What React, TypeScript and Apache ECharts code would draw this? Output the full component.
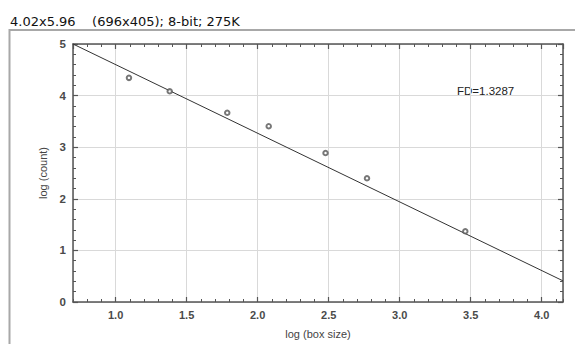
import React, { useEffect, useRef } from 'react';
import * as echarts from 'echarts';

const titleText = '4.02x5.96\u00a0\u00a0\u00a0 (696x405); 8-bit; 275K';
const xName = 'log (box size)';
const yName = 'log (count)';
const fdLabel = 'FD=1.3287';
const xMin = 0.7;
const xMax = 4.15;
const xMinorStep = 0.1;
const yMin = 0;
const yMax = 5;
const yStep = 1;
const pointX = [1.094, 1.381, 1.786, 2.078, 2.478, 2.77, 3.462];
const pointY = [4.344, 4.084, 3.667, 3.407, 2.887, 2.398, 1.37];
const fitX = [0.7, 4.15];
const fitY = [5.0, 0.41];

const AXIS = '#555';
const GRIDC = '#d9d9d9';
const FONT = 'Liberation Sans, Arial, sans-serif';

export default function App() {
  const ref = useRef<HTMLDivElement>(null);
  useEffect(() => {
    if (!ref.current) return;
    const chart = echarts.init(ref.current, undefined, { renderer: 'svg' });
    const majorX = (pos: 'top' | 'bottom', labels: boolean) => ({
      type: 'value',
      position: pos,
      min: xMin,
      max: xMax,
      axisLine: { show: true, onZero: false, lineStyle: { color: AXIS, width: 1.5 } },
      axisTick: { show: true, inside: true, length: 5, lineStyle: { color: AXIS, width: 1.2 } },
      axisLabel: {
        show: labels,
        showMinLabel: false,
        showMaxLabel: false,
        margin: 7,
        color: '#4a4a4a',
        fontSize: 11,
        fontWeight: 'bold',
        fontFamily: FONT,
        formatter: (v: number) => v.toFixed(1),
      },
      splitLine: { show: labels, lineStyle: { color: GRIDC, width: 1 } },
      ...(labels
        ? {
            name: xName,
            nameLocation: 'middle',
            nameGap: 26,
            nameTextStyle: { color: '#444', fontSize: 11, fontFamily: FONT },
          }
        : {}),
    });
    const minorX = (pos: 'top' | 'bottom') => ({
      type: 'value',
      position: pos,
      min: xMin,
      max: xMax,
      interval: xMinorStep,
      axisLine: { show: false, onZero: false },
      axisTick: { show: true, inside: true, length: 3, lineStyle: { color: AXIS, width: 1 } },
      axisLabel: { show: false },
      splitLine: { show: false },
    });
    const yAx = (pos: 'left' | 'right', labels: boolean) => ({
      type: 'value',
      position: pos,
      min: yMin,
      max: yMax,
      interval: yStep,
      axisLine: { show: true, onZero: false, lineStyle: { color: AXIS, width: 1.5 } },
      axisTick: { show: true, inside: true, length: 5, lineStyle: { color: AXIS, width: 1.2 } },
      minorTick: { show: true, splitNumber: 5, length: 3, lineStyle: { color: AXIS, width: 1 } },
      axisLabel: {
        show: labels,
        margin: 7,
        color: '#4a4a4a',
        fontSize: 11.5,
        fontWeight: 'bold',
        fontFamily: FONT,
      },
      splitLine: { show: labels, lineStyle: { color: GRIDC, width: 1 } },
      ...(labels
        ? {
            name: yName,
            nameLocation: 'middle',
            nameGap: 22,
            nameRotate: 90,
            nameTextStyle: { color: '#444', fontSize: 11, fontFamily: FONT },
          }
        : {}),
    });
    chart.setOption({
      animation: false,
      grid: { left: 73, top: 44, width: 490, height: 269.5, containLabel: false },
      xAxis: [majorX('bottom', true), minorX('bottom'), majorX('top', false), minorX('top')],
      yAxis: [yAx('left', true), yAx('right', false)],
      series: [
        {
          type: 'line',
          xAxisIndex: 0,
          yAxisIndex: 0,
          data: fitX.map((x, i) => [x, fitY[i]]),
          symbol: 'none',
          lineStyle: { color: '#333', width: 1 },
          z: 3,
        },
        {
          type: 'scatter',
          xAxisIndex: 0,
          yAxisIndex: 0,
          data: pointX.map((x, i) => [x, pointY[i]]),
          symbol: 'emptyCircle',
          symbolSize: 4.5,
          itemStyle: { color: '#555', borderWidth: 0.9 },
          z: 4,
        },
      ],
      graphic: [
        {
          type: 'rect',
          shape: { x: 9.5, y: 30, width: 620, height: 400 },
          style: { fill: 'none', stroke: '#a8a8a8', lineWidth: 2 },
          z: -1,
          silent: true,
        },
        {
          type: 'text',
          x: 10,
          y: 21,
          style: {
            text: titleText,
            fill: '#111',
            font: '13px "DejaVu Sans", sans-serif',
            verticalAlign: 'middle',
            align: 'left',
          },
        },
        {
          type: 'text',
          x: 457,
          y: 91,
          style: {
            text: fdLabel,
            fill: '#222',
            font: '11.5px "Liberation Sans", Arial, sans-serif',
            verticalAlign: 'middle',
            align: 'left',
          },
        },
      ],
    });
    return () => chart.dispose();
  }, []);
  return (
    <div
      ref={ref}
      style={{ position: 'fixed', left: 0, top: 0, width: 575, height: 344, background: '#fff' }}
    />
  );
}
